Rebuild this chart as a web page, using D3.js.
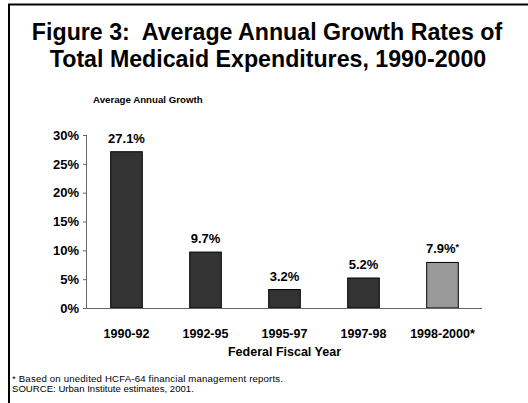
<!DOCTYPE html>
<html>
<head>
<meta charset="utf-8">
<script src="https://cdn.jsdelivr.net/npm/d3@7"></script>
<style>
  html, body { margin: 0; padding: 0; background: #fff; }
  svg { display: block; font-family: Arial, "Liberation Sans", sans-serif; }
</style>
</head>
<body>
<svg id="chart" width="528" height="403"></svg>
<script>
const categories = ["1990-92", "1992-95", "1995-97", "1997-98", "1998-2000*"];
const values = [27.1, 9.7, 3.2, 5.2, 7.9];
const valueLabels = ["27.1%", "9.7%", "3.2%", "5.2%", "7.9%"];
const labelSuffix = ["", "", "", "", "*"];
const estimated = [false, false, false, false, true];
const yTicks = [0, 5, 10, 15, 20, 25, 30];

const svg = d3.select("#chart");

// frame (top & left)
svg.append("line").attr("x1", 8).attr("y1", 4.5).attr("x2", 528).attr("y2", 4.5)
  .attr("stroke", "#000").attr("stroke-width", 2);
svg.append("line").attr("x1", 9).attr("y1", 4).attr("x2", 9).attr("y2", 403)
  .attr("stroke", "#000").attr("stroke-width", 2);

// title
const title = svg.append("text").attr("text-anchor", "middle")
  .attr("font-weight", "bold").attr("font-size", 23.2).attr("fill", "#000");
title.append("tspan").attr("x", 267).attr("y", 40).text("Figure 3:\u00a0 Average Annual Growth Rates of");
title.append("tspan").attr("x", 268).attr("y", 67).text("Total Medicaid Expenditures, 1990-2000");

const x0 = 87, x1 = 482, yTop = 135, yBot = 308;
const x = d3.scaleBand().domain(categories).range([x0, x1]).paddingInner(0.6).paddingOuter(0.3);
const y = d3.scaleLinear().domain([0, 30]).range([yBot, yTop]);

// y axis label
svg.append("text").attr("x", 93).attr("y", 103).attr("font-size", 9.7).attr("font-weight", "bold")
  .text("Average Annual Growth");

// bars
svg.selectAll("rect.bar").data(values).join("rect")
  .attr("class", "bar")
  .attr("x", (d, i) => x(categories[i]))
  .attr("y", d => y(d))
  .attr("width", x.bandwidth())
  .attr("height", d => yBot - y(d))
  .attr("fill", (d, i) => estimated[i] ? "#999999" : "#333333")
  .attr("stroke", "#000").attr("stroke-width", 1);

// value labels
const vl = svg.selectAll("text.vl").data(values).join("text")
  .attr("class", "vl")
  .attr("x", (d, i) => x(categories[i]) + x.bandwidth() / 2)
  .attr("y", d => y(d) - 9)
  .attr("text-anchor", "middle")
  .attr("font-size", 13).attr("font-weight", "bold");
vl.append("tspan").text((d, i) => valueLabels[i]);
vl.append("tspan").attr("font-size", 9).attr("dy", -3).text((d, i) => labelSuffix[i]);

// y axis
const yAxis = d3.axisLeft(y).tickValues(yTicks).tickFormat(d => d + "%").tickSize(4).tickPadding(4);
const gy = svg.append("g").attr("transform", `translate(${x0},0)`).call(yAxis);
gy.select(".domain").attr("stroke", "#666").attr("d", `M-0.5,${yTop}V${yBot}`);
gy.selectAll(".tick line").attr("stroke", "#666");
gy.selectAll(".tick text").attr("font-size", 13).attr("font-weight", "bold")
  .attr("fill", "#000").attr("font-family", "Arial, 'Liberation Sans', sans-serif");

// x axis
const xAxis = d3.axisBottom(x).tickSize(0).tickPadding(21);
const gx = svg.append("g").attr("transform", `translate(0,${yBot})`).call(xAxis);
gx.select(".domain").attr("stroke", "#666").attr("d", `M${x0},0.5H${x1}`);
gx.selectAll(".tick text").attr("font-size", 12.5).attr("font-weight", "bold")
  .attr("fill", "#000").attr("font-family", "Arial, 'Liberation Sans', sans-serif");

// x axis title
svg.append("text").attr("x", (x0 + x1) / 2).attr("y", 356).attr("text-anchor", "middle")
  .attr("font-size", 12.5).attr("font-weight", "bold").text("Federal Fiscal Year");

// footnotes
svg.append("text").attr("x", 12).attr("y", 382).attr("font-size", 9.6).attr("fill", "#000")
  .attr("textLength", 271).attr("lengthAdjust", "spacing")
  .text("* Based on unedited HCFA-64 financial management reports.");
svg.append("text").attr("x", 12).attr("y", 392).attr("font-size", 9.6).attr("fill", "#000")
  .text("SOURCE: Urban Institute estimates, 2001.");
</script>
</body>
</html>
